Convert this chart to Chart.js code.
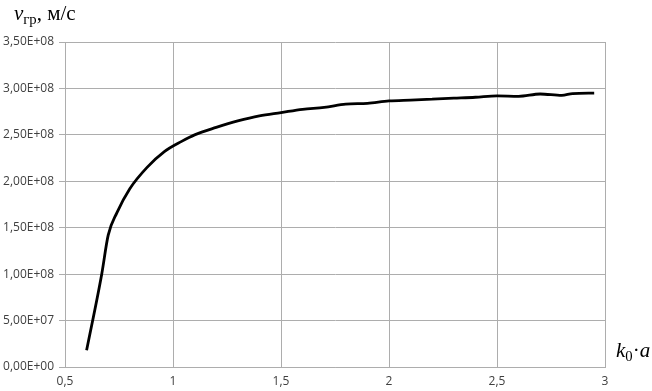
<!DOCTYPE html>
<html>
<head>
<meta charset="utf-8">
<script src="https://cdn.jsdelivr.net/npm/chart.js@4/dist/chart.umd.min.js"></script>
<style>
  html, body { margin: 0; padding: 0; background: #fff; }
  #wrap { position: relative; width: 652px; height: 391px; }
  .ttl { position: absolute; font-family: "Liberation Serif", "DejaVu Serif", serif; color: #000; white-space: nowrap; }
  .ttl i { font-style: italic; }
  .ttl sub { font-size: 0.7em; vertical-align: -0.3em; }
</style>
</head>
<body>
<div id="wrap">
  <canvas id="chart" width="652" height="391"></canvas>
  <div class="ttl" style="left:14px; top:1px; font-size:21px;"><i>v</i><sub>гр</sub>, м/с</div>
  <div class="ttl" style="left:616px; top:338px; font-size:21px;"><i>k</i><sub>0</sub>·<i>a</i></div>
</div>
<script>
// k0*a values and group velocity (m/s)
var kaValues = [0.60, 0.67, 0.70, 0.74, 0.80, 0.88, 0.96, 1.04, 1.10, 1.20, 1.30, 1.40, 1.50,
  1.60, 1.70, 1.80, 1.90, 2.00, 2.10, 2.20, 2.30, 2.40, 2.50, 2.60, 2.70, 2.80, 2.85, 2.95];
var vgValues = [0.18e8, 1.00e8, 1.42e8, 1.66e8, 1.92e8, 2.15e8, 2.32e8, 2.43e8, 2.50e8, 2.58e8, 2.65e8, 2.705e8, 2.74e8,
  2.775e8, 2.795e8, 2.83e8, 2.84e8, 2.865e8, 2.875e8, 2.885e8, 2.895e8, 2.905e8, 2.92e8, 2.915e8, 2.94e8, 2.925e8, 2.945e8, 2.95e8];
var xTicks = [0.5, 1, 1.5, 2, 2.5, 3];

function sciComma(v) {
  if (v === 0) return '0,00E+00';
  var e = Math.floor(Math.log10(Math.abs(v)) + 1e-9);
  var m = v / Math.pow(10, e);
  var es = (e < 0 ? '-' : '+') + (Math.abs(e) < 10 ? '0' : '') + Math.abs(e);
  return m.toFixed(2).replace('.', ',') + 'E' + es;
}

var points = kaValues.map(function(x, i) { return { x: x, y: vgValues[i] }; });
var gridColor = '#adadad';
var tickFont = { family: '"Open Sans", "Liberation Sans", sans-serif', size: 12 };

new Chart(document.getElementById('chart'), {
  type: 'line',
  data: {
    datasets: [{
      data: points,
      borderColor: '#000',
      borderWidth: 2.8,
      pointRadius: 0,
      fill: false,
      cubicInterpolationMode: 'monotone'
    }]
  },
  options: {
    responsive: false,
    animation: false,
    events: [],
    layout: { padding: { left: 0, right: 47, top: 42, bottom: 0 } },
    plugins: { legend: { display: false }, tooltip: { enabled: false } },
    scales: {
      x: {
        type: 'linear',
        min: 0.5,
        max: 3,
        afterBuildTicks: function(s) { s.ticks = xTicks.map(function(v) { return { value: v }; }); },
        afterFit: function(s) { s.height = 24; },
        grid: { color: gridColor, lineWidth: 1, drawTicks: false },
        border: { color: gridColor },
        ticks: {
          padding: 7,
          color: '#404040',
          font: tickFont,
          maxRotation: 0,
          callback: function(v) { return String(v).replace('.', ','); }
        }
      },
      y: {
        min: 0,
        max: 3.5e8,
        afterFit: function(s) { s.width = 65; },
        grid: { color: gridColor, lineWidth: 1, tickLength: 6 },
        border: { color: gridColor },
        ticks: {
          stepSize: 5e7,
          padding: 5,
          color: '#404040',
          font: tickFont,
          callback: function(v) { return sciComma(v); }
        }
      }
    }
  }
});
</script>
</body>
</html>
